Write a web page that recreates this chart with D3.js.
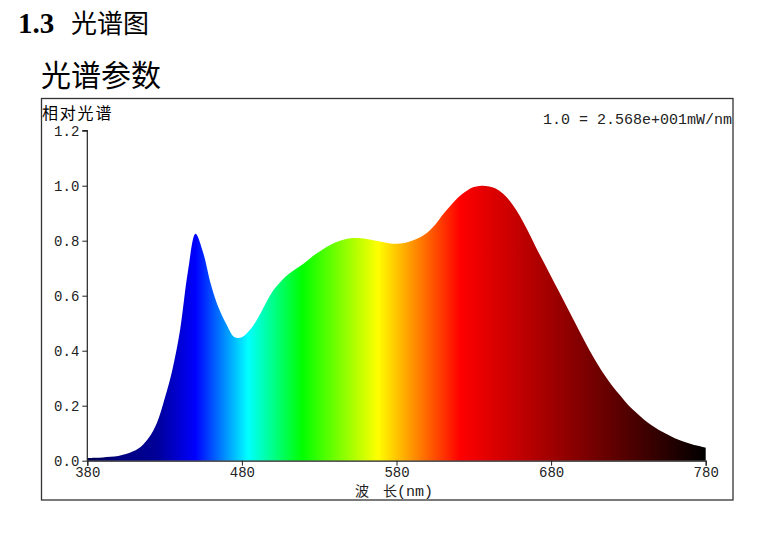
<!DOCTYPE html>
<html><head><meta charset="utf-8">
<script src="https://cdn.jsdelivr.net/npm/d3@7"></script>
<style>body{margin:0;background:#fff}</style>
</head><body><svg id="c" width="761" height="560"></svg>
<script>
// ---- data ----
const wavelengths = [380,385,390,395,400,405,410,415,420,425,430,435,440,445,450,455,460,465,470,475,
  480,485,490,495,500,505,510,515,520,525,530,535,540,545,550,555,560,565,570,575,
  580,585,590,595,600,605,610,615,620,625,630,635,640,645,650,655,660,665,670,675,
  680,685,690,695,700,705,710,715,720,725,730,735,740,745,750,755,760,765,770,775,780];
const relativeSpectrum = [0.010,0.011,0.012,0.014,0.017,0.024,0.035,0.053,0.085,0.137,0.225,0.330,0.475,0.685,0.825,0.755,0.640,0.555,0.496,0.450,
  0.449,0.474,0.515,0.568,0.617,0.651,0.678,0.698,0.717,0.740,0.760,0.778,0.793,0.803,0.809,0.810,0.807,0.802,0.796,0.791,
  0.789,0.792,0.800,0.812,0.830,0.858,0.895,0.928,0.958,0.980,0.995,1.000,0.997,0.987,0.965,0.932,0.888,0.835,0.778,0.724,
  0.670,0.616,0.562,0.507,0.453,0.400,0.352,0.308,0.269,0.235,0.202,0.175,0.150,0.129,0.111,0.096,0.082,0.071,0.062,0.054,0.047];
const xTicks = [380,480,580,680,780];
const yTicks = [0.0,0.2,0.4,0.6,0.8,1.0,1.2];
const stopNm = [380,400,425,450,484,519,568,621,780];
const stopColor = ["#000050","#000080","#000098","#0000ff","#00ffff","#00ff00","#ffff00","#ff0000","#000000"];

const svg = d3.select("#c");
const x = d3.scaleLinear().domain([380,780]).range([87.3,705.7]);
const y = d3.scaleLinear().domain([0,1.2]).range([460.7,130.7]);
const mono = "'Liberation Mono','Courier New',monospace";
const cjk = "'Noto Sans CJK SC','Liberation Mono',sans-serif";

// headings
svg.append("text").attr("x",18).attr("y",33).style("font-family","'Liberation Serif',serif")
  .style("font-weight","bold").style("font-size","29px").text("1.3");
svg.append("text").attr("x",71).attr("y",33).style("font-family",cjk).style("font-size","26px").text("光谱图");
svg.append("text").attr("x",41).attr("y",86).style("font-family",cjk).style("font-size","30px").text("光谱参数");

// frame
svg.append("rect").attr("x",41.5).attr("y",98.5).attr("width",691.5).attr("height",401.5)
  .attr("fill","none").attr("stroke","#333").attr("stroke-width",1.3);

// gradient
const defs = svg.append("defs");
const g = defs.append("linearGradient").attr("id","spec").attr("gradientUnits","userSpaceOnUse")
  .attr("x1",x(380)).attr("x2",x(780)).attr("y1",0).attr("y2",0);
stopNm.forEach((nm,i)=>g.append("stop").attr("offset",(x(nm)-x(380))/(x(780)-x(380))).attr("stop-color",stopColor[i]));

const data = wavelengths.map((w,i)=>({w, v:relativeSpectrum[i]}));
const area = d3.area().x(d=>x(d.w)).y0(y(0)).y1(d=>y(d.v)).curve(d3.curveCatmullRom.alpha(0.5));
svg.append("path").datum(data).attr("d",area).attr("fill","url(#spec)");

// axes
const yAxis = d3.axisLeft(y).tickValues(yTicks).tickFormat(d3.format(".1f")).tickSize(5).tickPadding(3);
const ya = svg.append("g").attr("transform",`translate(${x(380)},0)`).call(yAxis);
const xAxis = d3.axisBottom(x).tickValues(xTicks).tickSize(5).tickPadding(1);
const xa = svg.append("g").attr("transform",`translate(0,${y(0)})`).call(xAxis);
[ya,xa].forEach(a=>{
  a.select(".domain").attr("stroke","#222").attr("stroke-width",1.2);
  a.selectAll(".tick line").attr("stroke","#222");
  a.selectAll("text").style("font-family",mono).style("font-size","14px").attr("fill","#222");
});
ya.select(".domain").attr("d",`M-0,${y(0)}V${y(1.2)}H-5`);

// labels
svg.append("text").attr("x",42).attr("y",119).style("font-family",cjk).style("font-size","16px")
  .style("letter-spacing","1.8px").text("相对光谱");
svg.append("text").attr("x",732).attr("y",124).attr("text-anchor","end").style("font-family",mono).style("font-size","15px").attr("fill","#222").text("1.0 = 2.568e+001mW/nm");
const xl = svg.append("text").attr("x",355).attr("y",496).attr("fill","#222");
xl.append("tspan").style("font-family",cjk).style("font-size","14px").text("波");
xl.append("tspan").attr("dx",14).style("font-family",cjk).style("font-size","14px").text("长");
xl.append("tspan").style("font-family",mono).style("font-size","15px").text("(nm)");
</script></body></html>
